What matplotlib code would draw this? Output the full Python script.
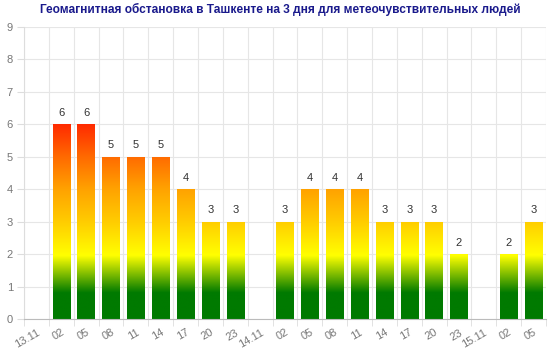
import numpy as np
import matplotlib
matplotlib.use('Agg')
from matplotlib import pyplot as plt
from matplotlib.colors import LinearSegmentedColormap
from matplotlib.patches import Rectangle

# ==================================================================================
# DATA
# ==================================================================================
labels = ['13.11', '02', '05', '08', '11', '14', '17', '20', '23',
          '14.11', '02', '05', '08', '11', '14', '17', '20', '23',
          '15.11', '02', '05']
values = [0, 6, 6, 5, 5, 5, 4, 3, 3,
          0, 3, 4, 4, 4, 3, 3, 3, 2,
          0, 2, 3]
title = 'Геомагнитная обстановка в Ташкенте на 3 дня для метеочувствительных людей'

# gradient in value space (0..6)
grad_top = 6.0
grad_stops = [(0.0, '#007a00'), (0.8 / 6, '#007a00'), (1.95 / 6, '#ffff00'),
              (3.0 / 6, '#ffcc00'), (4.0 / 6, '#ffa200'), (5.0 / 6, '#ff6a00'),
              (1.0, '#ff2a00')]
cmap = LinearSegmentedColormap.from_list('geo', grad_stops)

# ==================================================================================
# PLOT
# ==================================================================================
plt.rcParams['font.family'] = ['Liberation Sans', 'DejaVu Sans']
fig = plt.figure(figsize=(5.6, 3.52), dpi=100)
ax = fig.add_axes([24 / 560, 33 / 352, 522 / 560, 292 / 352])

n = len(labels)
x = np.arange(n)
width = 0.7

grad = np.linspace(0, 1, 256).reshape(-1, 1)
for xi, v in zip(x, values):
    if v <= 0:
        continue
    rect = Rectangle((xi - width / 2, 0), width, v, facecolor='none', edgecolor='none')
    ax.add_patch(rect)
    im = ax.imshow(grad, cmap=cmap, origin='lower', aspect='auto',
                   extent=(xi - width / 2, xi + width / 2, 0, grad_top),
                   vmin=0, vmax=1, interpolation='bilinear', zorder=2)
    im.set_clip_path(rect)
    ax.text(xi, v + 0.2, str(v), ha='center', va='bottom', fontsize=8, color='#333333', zorder=3)

ax.set_xlim(-0.5, n - 0.5)
ax.set_ylim(0, 9)

# grid
ax.set_yticks(range(0, 10))
ax.set_yticklabels([str(i) for i in range(0, 10)], fontsize=8, color='#777777')
ax.set_xticks(x)
ax.set_xticklabels(labels, rotation=30, ha='right', rotation_mode='anchor', fontsize=8, color='#777777')
ax.set_xticks(np.arange(-0.5, n, 1), minor=True)
ax.tick_params(axis='x', which='major', length=0, pad=6)
ax.tick_params(axis='x', which='minor', length=5, color='#dddddd')
ax.tick_params(axis='y', length=5, color='#dddddd', pad=3)
ax.grid(True, axis='y', color='#e6e6e6', linewidth=0.8, zorder=0)
ax.grid(True, axis='x', which='minor', color='#e6e6e6', linewidth=0.8, zorder=0)
ax.set_axisbelow(True)
for side in ['top', 'right']:
    ax.spines[side].set_visible(False)
ax.spines['bottom'].set_color('#bbbbbb')
ax.spines['left'].set_color('#dddddd')

fig.text(0.5, 1 - 9 / 352, title, ha='center', va='center', fontsize=8.6,
         fontweight='bold', color='#1a1a8c')

fig.savefig('out.png', dpi=100)
